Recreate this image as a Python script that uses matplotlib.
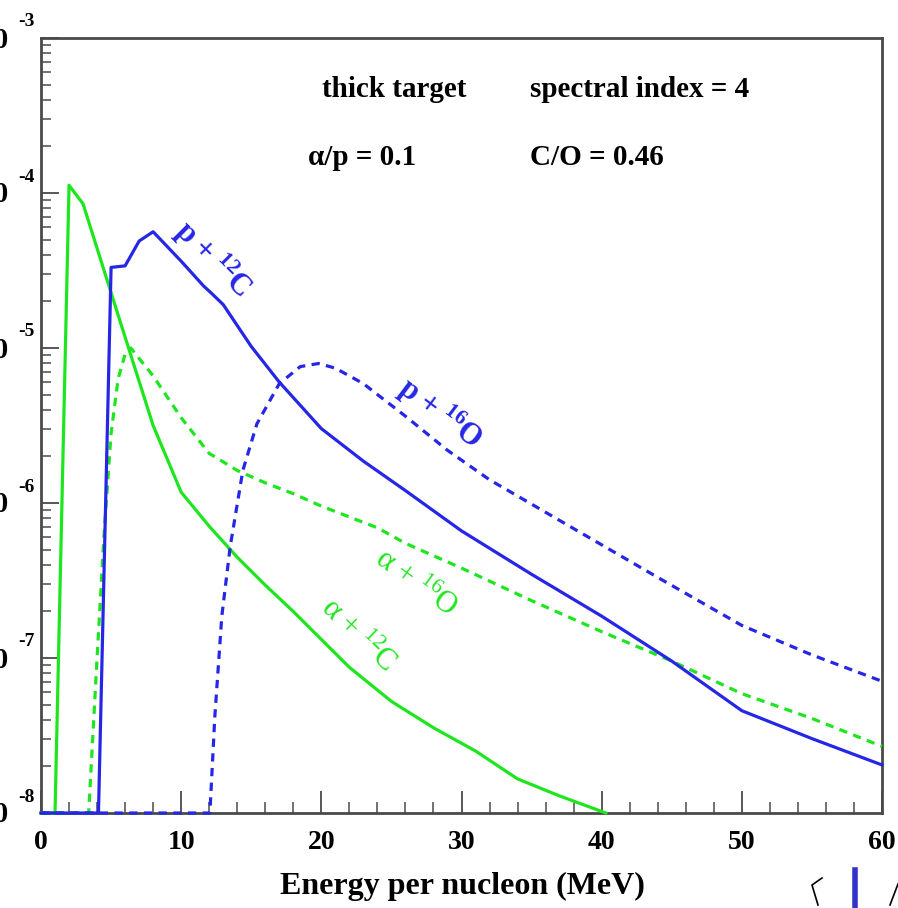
import matplotlib as mpl
import matplotlib.pyplot as plt
import numpy as np
mpl.use('Agg')

plt.rcParams['font.family'] = ['Liberation Serif', 'DejaVu Serif']
plt.rcParams['mathtext.fontset'] = 'custom'
plt.rcParams['mathtext.rm'] = 'Liberation Serif'
plt.rcParams['mathtext.bf'] = 'Liberation Serif:bold'
plt.rcParams['mathtext.default'] = 'rm'

# energy per nucleon (MeV) and log10 of the yield for each reaction
e_pC = [0, 4.1, 5.0, 6.0, 7.0, 8.0, 10, 11.6, 12.2, 13, 15, 17, 20, 23, 26, 30, 35, 40, 45, 50, 55, 60]
y_pC = [-8, -8, -4.48, -4.47, -4.31, -4.25, -4.44, -4.60, -4.65, -4.72, -4.99, -5.22, -5.52, -5.73,
        -5.92, -6.18, -6.46, -6.73, -7.02, -7.34, -7.52, -7.69]

e_pO = [0, 12.05, 12.4, 12.9, 13.5, 14.4, 15.4, 17, 18.5, 19.8, 21, 23, 26, 29, 32, 36, 40, 44, 50, 55, 60]
y_pO = [-8, -8, -7.38, -6.73, -6.28, -5.79, -5.49, -5.23, -5.12, -5.10, -5.13, -5.23, -5.44, -5.66,
        -5.85, -6.06, -6.27, -6.48, -6.79, -6.98, -7.15]

e_aC = [0, 1.0, 2.0, 3.0, 6.0, 8.0, 10, 12, 14, 16, 18, 20, 22, 25, 28, 31, 34, 37, 40.3]
y_aC = [-8, -8, -3.95, -4.07, -4.93, -5.50, -5.93, -6.15, -6.35, -6.53, -6.70, -6.88, -7.06, -7.28,
        -7.45, -7.60, -7.78, -7.89, -8.0]

e_aO = [0, 3.4, 4.0, 4.5, 5.0, 5.5, 6.0, 6.4, 8, 10, 12, 14, 16, 18, 20, 22, 24, 26, 28, 30, 35, 40,
        45, 50, 55, 60]
y_aO = [-8, -8, -7.0, -6.2, -5.55, -5.2, -5.04, -5.0, -5.18, -5.45, -5.68, -5.79, -5.87, -5.94, -6.02,
        -6.09, -6.16, -6.26, -6.34, -6.42, -6.63, -6.83, -7.02, -7.23, -7.39, -7.57]

green = '#1ee61e'
blue = '#2626e6'
frame = '#4a4a4a'

fig = plt.figure(figsize=(8.98, 9.08), dpi=100)
ax = fig.add_axes([41 / 898, 95 / 908, 841 / 898, 775 / 908])

lw = 2.3
ax.plot(e_aC, 10 ** np.array(y_aC), color=green, lw=lw, clip_on=False, zorder=3)
ax.plot(e_aO, 10 ** np.array(y_aO), color=green, lw=lw, dashes=(2.6, 2.0), clip_on=False, zorder=3)
ax.plot(e_pC, 10 ** np.array(y_pC), color=blue, lw=lw, clip_on=False, zorder=4)
ax.plot(e_pO, 10 ** np.array(y_pO), color=blue, lw=lw, dashes=(2.6, 2.0), clip_on=False, zorder=4)

ax.set_yscale('log')
ax.set_xlim(0, 60)
ax.set_ylim(1e-8, 1e-3)

for s in ax.spines.values():
    s.set_color(frame)
    s.set_linewidth(2.0)

ax.set_xticks(np.arange(0, 61, 10))
ax.set_xticks(np.arange(0, 61, 2), minor=True)
ax.tick_params(axis='x', which='major', direction='in', length=16, width=1.3, color=frame,
               labelsize=20, pad=12, top=False)
ax.tick_params(axis='x', which='minor', direction='in', length=8, width=1.1, color=frame, top=False)
ax.tick_params(axis='y', which='major', direction='in', length=13, width=1.3, color=frame, right=False)
ax.tick_params(axis='y', which='minor', direction='in', length=7, width=1.1, color=frame, right=False)
ax.yaxis.set_minor_locator(mpl.ticker.LogLocator(base=10, subs=np.arange(2, 10)))
ax.yaxis.set_minor_formatter(mpl.ticker.NullFormatter())
ax.set_yticklabels([])
for lab in ax.get_xticklabels():
    lab.set_fontweight('bold')

# y labels drawn as 10 with a raised exponent
for p in range(-8, -2):
    ax.annotate('10', xy=(0, 10.0 ** p), xycoords=('axes fraction', 'data'), xytext=(-32, -2),
                textcoords='offset pixels', ha='right', va='center', fontsize=21,
                fontweight='bold', annotation_clip=False)
    ax.annotate(str(p), xy=(0, 10.0 ** p), xycoords=('axes fraction', 'data'), xytext=(-23, 16),
                textcoords='offset pixels', ha='left', va='center', fontsize=14,
                fontweight='bold', annotation_clip=False)

fig.text(462 / 898, 1 - 886 / 908, 'Energy per nucleon (MeV)', ha='center', va='center',
         fontsize=23, fontweight='bold')

ax.text(20.05, 10 ** -3.335, 'thick target', fontsize=21, fontweight='bold', va='center')
ax.text(34.9, 10 ** -3.335, 'spectral index = 4', fontsize=21, fontweight='bold', va='center')
ax.text(19.05, 10 ** -3.768, 'α/p = 0.1', fontsize=21, fontweight='bold', va='center')
ax.text(34.9, 10 ** -3.768, 'C/O = 0.46', fontsize=21, fontweight='bold', va='center')

ax.text(12.3, 10 ** -4.43, r'p + $\mathbf{^{12}}$C', color=blue, fontsize=22, fontweight='bold',
        rotation=-45, rotation_mode='anchor', ha='center', va='center')
ax.text(28.5, 10 ** -5.42, r'p + $\mathbf{^{16}}$O', color=blue, fontsize=22, fontweight='bold',
        rotation=-37, rotation_mode='anchor', ha='center', va='center')
ax.text(26.75, 10 ** -6.52, r'α + $^{16}$O', color=green, fontsize=22,
        rotation=-36, rotation_mode='anchor', ha='center', va='center')
ax.text(22.6, 10 ** -6.86, r'α + $^{12}$C', color=green, fontsize=22,
        rotation=-44, rotation_mode='anchor', ha='center', va='center')

# bits of neighbouring content at the lower right edge
fig.add_artist(mpl.lines.Line2D([855 / 898, 855 / 898], [0, 38 / 908], color='#3333cc', lw=4))
fig.add_artist(mpl.lines.Line2D([822 / 898, 812 / 898, 818 / 898], [1 - 878 / 908, 1 - 885 / 908, 1 - 905 / 908],
                                color='black', lw=1.2))
fig.add_artist(mpl.lines.Line2D([898 / 898, 890 / 898], [1 - 884 / 908, 1 - 905 / 908],
                                color='black', lw=1.2))

fig.savefig('out.png', dpi=100)
